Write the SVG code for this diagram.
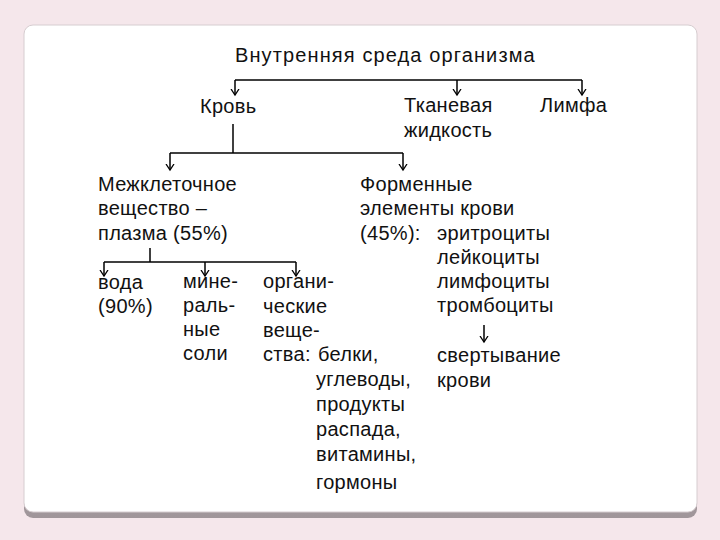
<svg xmlns="http://www.w3.org/2000/svg" width="720" height="540" viewBox="0 0 720 540">
<defs>
<marker id="arr" markerUnits="userSpaceOnUse" markerWidth="12" markerHeight="12" viewBox="-6 -6 12 12" refX="0" refY="0" orient="auto">
<path d="M-6,-4 L0,0 L-6,4" fill="none" stroke="#000" stroke-width="1.3"/>
</marker>
<linearGradient id="sh" x1="0" y1="0" x2="0" y2="1">
<stop offset="0" stop-color="#d8d0d3"/>
<stop offset="1" stop-color="#a0969a"/>
</linearGradient>
</defs>
<style>
text{font-family:"Liberation Sans","DejaVu Sans",sans-serif;font-size:20px;fill:#111;letter-spacing:0.3px}
.c line,.c path{stroke:#000;stroke-width:1.5;fill:none}
.a{marker-end:url(#arr)}
</style>
<rect width="720" height="540" fill="#f5e7eb"/>
<rect x="24" y="28" width="673" height="490" rx="9" fill="url(#sh)"/>
<rect x="24" y="25" width="673" height="487" rx="9" fill="#fff" stroke="#d6cdd0" stroke-width="1"/>

<g class="c" id="connectors">
<line x1="235" y1="80" x2="582" y2="80"/>
<line class="a" x1="235" y1="80" x2="235" y2="95"/>
<line class="a" x1="457" y1="80" x2="457" y2="95"/>
<line class="a" x1="582" y1="80" x2="582" y2="95"/>
<line x1="233" y1="124" x2="233" y2="153"/>
<line x1="170" y1="153" x2="403" y2="153"/>
<line class="a" x1="170" y1="153" x2="170" y2="170"/>
<line class="a" x1="403" y1="153" x2="403" y2="170"/>
<line x1="150" y1="248" x2="150" y2="262"/>
<line x1="104" y1="262" x2="296" y2="262"/>
<line class="a" x1="104" y1="262" x2="104" y2="276"/>
<line class="a" x1="205" y1="262" x2="205" y2="276"/>
<line class="a" x1="296" y1="262" x2="296" y2="276"/>
<line class="a" x1="484" y1="325" x2="484" y2="342"/>
</g>

<g id="title"><text x="235" y="62" textLength="300">Внутренняя среда организма</text></g>
<g id="krov"><text x="200" y="113">Кровь</text></g>
<g id="tkan"><text x="404" y="112">Тканевая</text><text x="404" y="137">жидкость</text></g>
<g id="limfa"><text x="540" y="112">Лимфа</text></g>
<g id="plazma"><text x="98" y="191" textLength="139">Межклеточное</text><text x="98" y="215">вещество  –</text><text x="98" y="240">плазма (55%)</text></g>
<g id="formen"><text x="360" y="191">Форменные</text><text x="360" y="215">элементы крови</text><text x="360" y="240">(45%):</text>
<text x="437" y="240">эритроциты</text><text x="437" y="264">лейкоциты</text><text x="437" y="288">лимфоциты</text><text x="437" y="312">тромбоциты</text></g>
<g id="svert"><text x="437" y="362">свертывание</text><text x="437" y="387">крови</text></g>
<g id="voda"><text x="98" y="289">вода</text><text x="98" y="313">(90%)</text></g>
<g id="soli"><text x="183" y="288">мине-</text><text x="183" y="312">раль-</text><text x="183" y="336">ные</text><text x="183" y="360">соли</text></g>
<g id="organ"><text x="263" y="288">органи-</text><text x="263" y="313">ческие</text><text x="263" y="337">веще-</text><text x="263" y="361">ства:</text>
<text x="318" y="361">белки,</text><text x="316" y="386">углеводы,</text><text x="316" y="411">продукты</text><text x="316" y="436">распада,</text><text x="316" y="461">витамины,</text><text x="316" y="489">гормоны</text></g>
</svg>
